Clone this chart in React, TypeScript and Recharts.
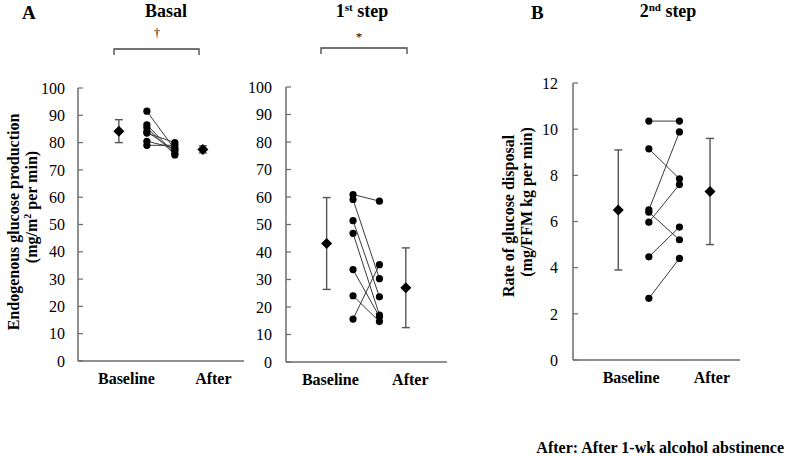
import React from 'react';
import { ComposedChart, Scatter, XAxis, YAxis, ErrorBar } from 'recharts';

const FONT = '"Liberation Serif", "Times New Roman", serif';

// x categories and tick labels
const xLabels = ['Baseline', 'After'];
// group index: 1 = baseline mean, 2 = baseline individuals, 3 = after individuals, 4 = after mean
const groups = [1, 2, 3, 4];

// Panel A – Basal (mg/m2 per min)
const basalBaseline = [91.5, 86.5, 85.5, 84, 83.5, 80.5, 79];
const basalAfter = [77.5, 76, 75.5, 77, 80, 78, 79];
const basalMean = [84.2, 77.5];
const basalSD = [4.2, 1.3];

// Panel A – 1st step
const step1Baseline = [60.9, 59.1, 51.4, 46.8, 33.6, 24.1, 15.6];
const step1After = [58.5, 30.3, 23.7, 17.1, 16.5, 14.7, 35.4];
const step1Mean = [43.1, 27.0];
const step1SD = [16.7, 14.5];

// Panel B – 2nd step (mg/FFM kg per min)
const step2Baseline = [10.35, 9.15, 6.5, 6.4, 5.97, 4.47, 2.67];
const step2After = [10.35, 7.85, 9.88, 5.21, 7.6, 5.76, 4.4];
const step2Mean = [6.5, 7.3];
const step2SD = [2.6, 2.3];

const yTicksA = [0, 10, 20, 30, 40, 50, 60, 70, 80, 90, 100];
const yTicksB = [0, 2, 4, 6, 8, 10, 12];

const Dot = (p: any) => <circle cx={p.cx} cy={p.cy} r={3.6} fill="#000" />;
const Diamond = (p: any) => {
  const s = 5.5;
  return (
    <polygon
      points={`${p.cx},${p.cy - s} ${p.cx + s},${p.cy} ${p.cx},${p.cy + s} ${p.cx - s},${p.cy}`}
      fill="#000"
    />
  );
};

type PanelProps = {
  left: number; top: number; width: number; height: number;
  margin: { top: number; right: number; bottom: number; left: number };
  yAxisWidth: number; tickMargin: number;
  yTicks: number[]; xDomain: [number, number]; xTicks: number[];
  baseline: number[]; after: number[]; mean: number[]; sd: number[];
};

function Panel(props: PanelProps) {
  const { baseline, after, mean, sd } = props;
  const pairs = baseline.map((b, i) => [
    { g: groups[1], v: b },
    { g: groups[2], v: after[i] },
  ]);
  const means = [
    { g: groups[0], v: mean[0], err: sd[0] },
    { g: groups[3], v: mean[1], err: sd[1] },
  ];
  const yMax = props.yTicks[props.yTicks.length - 1];
  return (
    <div style={{ position: 'absolute', left: props.left, top: props.top, fontFamily: FONT }}>
      <ComposedChart width={props.width} height={props.height} margin={props.margin}>
        <XAxis
          type="number"
          dataKey="g"
          domain={props.xDomain}
          allowDataOverflow
          ticks={props.xTicks}
          interval={0}
          tickFormatter={(v: number) => xLabels[props.xTicks.indexOf(v)]}
          tickLine={false}
          tickSize={0}
          tickMargin={12}
          height={30}
          axisLine={{ stroke: '#6b6b6b', strokeWidth: 1.5 }}
          tick={{ fill: '#000', fontSize: 16, fontWeight: 'bold', fontFamily: FONT }}
        />
        <YAxis
          type="number"
          dataKey="v"
          domain={[0, yMax]}
          allowDataOverflow
          ticks={props.yTicks}
          interval={0}
          width={props.yAxisWidth}
          tickSize={-5}
          tickMargin={props.tickMargin}
          axisLine={{ stroke: '#6b6b6b', strokeWidth: 1.5 }}
          tickLine={{ stroke: '#6b6b6b', strokeWidth: 1.2 }}
          tick={{ fill: '#000', fontSize: 16, fontFamily: FONT }}
        />
        {pairs.map((d, i) => (
          <Scatter
            key={i}
            data={d}
            line={{ stroke: '#3a3a3a', strokeWidth: 1 }}
            lineType="joint"
            shape={Dot}
            isAnimationActive={false}
          />
        ))}
        <Scatter data={means} shape={Diamond} isAnimationActive={false}>
          <ErrorBar dataKey="err" direction="y" width={4} stroke="#555" strokeWidth={1.4} />
        </Scatter>
      </ComposedChart>
    </div>
  );
}

export default function App() {
  const bold = { fontFamily: FONT, fontWeight: 'bold' as const, fill: '#000' };
  return (
    <div style={{ position: 'absolute', left: 0, top: 0, width: 787, height: 456, background: '#fff', fontFamily: FONT }}>
      <Panel
        left={0} top={0} width={260} height={400}
        margin={{ top: 88, right: 16, bottom: 9, left: 18 }}
        yAxisWidth={60} tickMargin={18}
        yTicks={yTicksA} xDomain={[-0.46, 5.47]} xTicks={[1.27, 4.375]}
        baseline={basalBaseline} after={basalAfter} mean={basalMean} sd={basalSD}
      />
      <Panel
        left={226} top={0} width={240} height={400}
        margin={{ top: 87, right: 19, bottom: 8, left: 0 }}
        yAxisWidth={60} tickMargin={19}
        yTicks={yTicksA} xDomain={[-0.54, 5.56]} xTicks={[1.14, 4.17]}
        baseline={step1Baseline} after={step1After} mean={step1Mean} sd={step1SD}
      />
      <Panel
        left={513} top={0} width={250} height={400}
        margin={{ top: 83, right: 23, bottom: 10, left: 0 }}
        yAxisWidth={60} tickMargin={20}
        yTicks={yTicksB} xDomain={[-0.48, 4.98]} xTicks={[1.42, 4.06]}
        baseline={step2Baseline} after={step2After} mean={step2Mean} sd={step2SD}
      />
      <svg width={787} height={456} style={{ position: 'absolute', left: 0, top: 0, pointerEvents: 'none' }}>
        <text x={22} y={19} fontSize={19} {...bold}>A</text>
        <text x={166} y={17} fontSize={18} textAnchor="middle" {...bold}>Basal</text>
        <text x={157} y={37} fontSize={12} textAnchor="middle" fontFamily={FONT} fill="#000">†</text>
        <path d="M114,55 L114,49 L199,49 L199,55" fill="none" stroke="#444" strokeWidth={1.3} />

        <text x={362} y={17} fontSize={18} textAnchor="middle" {...bold}>
          1<tspan dy={-6} fontSize={11}>st</tspan><tspan dy={6}> step</tspan>
        </text>
        <text x={359} y={41} fontSize={13} textAnchor="middle" fontFamily={FONT} fill="#000">*</text>
        <path d="M321,54 L321,48 L407,48 L407,54" fill="none" stroke="#444" strokeWidth={1.3} />

        <text x={531} y={19} fontSize={19} {...bold}>B</text>
        <text x={668} y={17} fontSize={18} textAnchor="middle" {...bold}>
          2<tspan dy={-6} fontSize={11}>nd</tspan><tspan dy={6}> step</tspan>
        </text>

        <text transform="translate(19,222) rotate(-90)" fontSize={16} textAnchor="middle" {...bold}>
          Endogenous glucose production
        </text>
        <text transform="translate(37,207) rotate(-90)" fontSize={16} textAnchor="middle" {...bold}>
          (mg/m<tspan dy={-6} fontSize={10}>2</tspan><tspan dy={6}> per min)</tspan>
        </text>

        <text transform="translate(514,216) rotate(-90)" fontSize={16} textAnchor="middle" {...bold}>
          Rate of glucose disposal
        </text>
        <text transform="translate(532,202) rotate(-90)" fontSize={16} textAnchor="middle" {...bold}>
          (mg/FFM kg per min)
        </text>

        <text x={784} y={453} fontSize={16} textAnchor="end" {...bold}>
          After: After 1-wk alcohol abstinence
        </text>
      </svg>
    </div>
  );
}
